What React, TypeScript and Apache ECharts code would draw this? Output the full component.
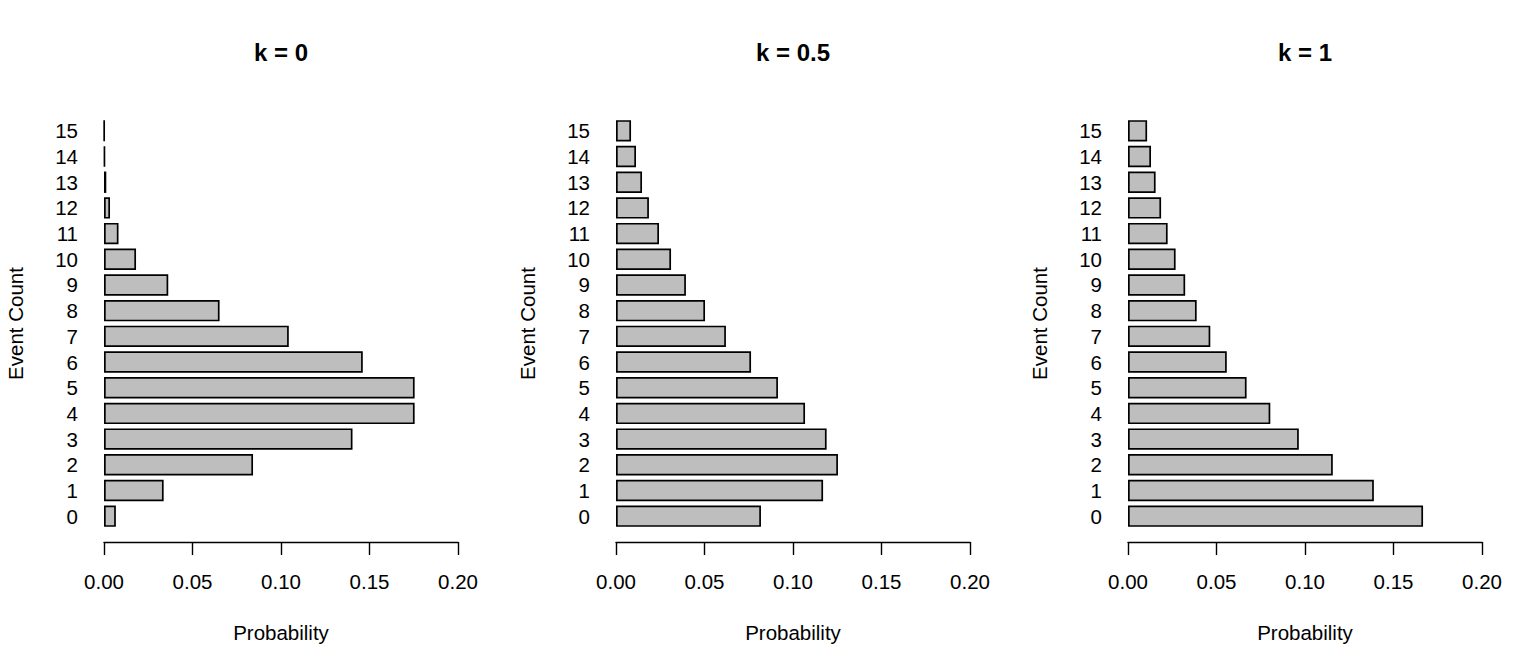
import React, { useEffect, useRef } from 'react';
import * as echarts from 'echarts';

const eventCounts = ['0', '1', '2', '3', '4', '5', '6', '7', '8', '9', '10', '11', '12', '13', '14', '15'];

const probK0 = [0.0067, 0.0337, 0.0842, 0.1404, 0.1755, 0.1755, 0.1462, 0.1044, 0.0653, 0.0363, 0.0181, 0.0082, 0.0034, 0.0013, 0.0005, 0.0002];
const probK05 = [0.0819, 0.117, 0.1254, 0.119, 0.1068, 0.0915, 0.0763, 0.0621, 0.0503, 0.0395, 0.0311, 0.0243, 0.0186, 0.0147, 0.0113, 0.0085];
const probK1 = [0.1667, 0.1389, 0.1157, 0.0965, 0.0804, 0.067, 0.0558, 0.0465, 0.0388, 0.0323, 0.0269, 0.0224, 0.0187, 0.0156, 0.013, 0.0108];

const panelTitles = ['k = 0', 'k = 0.5', 'k = 1'];
const panelData = [probK0, probK05, probK1];

const FONT = "'Liberation Sans', Arial, Helvetica, sans-serif";

const App = function () {
  const chartDom = useRef<HTMLDivElement>(null);

  useEffect(() => {
    const chart = echarts.init(chartDom.current!, null, { renderer: 'svg' });

    // one grid per panel, 512px apart
    const grids = panelData.map((_, i) => ({
      left: 104 + 512 * i,
      top: 118,
      width: 354,
      height: 411,
    }));

    const option: any = {
      animation: false,
      backgroundColor: '#ffffff',
      textStyle: { fontFamily: FONT, color: '#000' },
      title: panelTitles.map((t, i) => ({
        text: t,
        left: 281 + 512 * i,
        top: 40,
        textAlign: 'center',
        padding: 0,
        textStyle: { fontFamily: FONT, fontSize: 24, fontWeight: 'bold', color: '#000' },
      })),
      grid: grids,
      xAxis: panelData.map((_, i) => ({
        type: 'value',
        gridIndex: i,
        min: 0,
        max: 0.2,
        interval: 0.05,
        offset: 13,
        name: 'Probability',
        nameLocation: 'middle',
        nameGap: 80,
        nameTextStyle: { fontFamily: FONT, fontSize: 20.5, color: '#000' },
        axisLine: { show: true, lineStyle: { color: '#000', width: 1.4 } },
        axisTick: { show: true, length: 13, lineStyle: { color: '#000', width: 1.4 } },
        axisLabel: {
          margin: 29,
          fontFamily: FONT,
          fontSize: 20.5,
          color: '#000',
          formatter: (v: number) => v.toFixed(2),
        },
        splitLine: { show: false },
      })),
      yAxis: panelData.map((_, i) => ({
        type: 'category',
        gridIndex: i,
        data: eventCounts,
        name: 'Event Count',
        nameLocation: 'middle',
        nameGap: 78,
        nameTextStyle: { fontFamily: FONT, fontSize: 20.5, color: '#000' },
        axisLine: { show: false },
        axisTick: { show: false },
        axisLabel: { margin: 26, fontFamily: FONT, fontSize: 20.5, color: '#000', interval: 0 },
        splitLine: { show: false },
      })),
      series: panelData.map((d, i) => ({
        type: 'bar',
        xAxisIndex: i,
        yAxisIndex: i,
        data: d,
        barCategoryGap: '16.67%',
        itemStyle: { color: '#bebebe', borderColor: '#000', borderWidth: 1.7 },
      })),
    };

    chart.setOption(option);

    return () => {
      chart.dispose();
    };
  }, []);

  return (
    <div
      ref={chartDom}
      style={{ position: 'fixed', left: 0, top: 0, width: 1536, height: 672 }}
    />
  );
};

export default App;
